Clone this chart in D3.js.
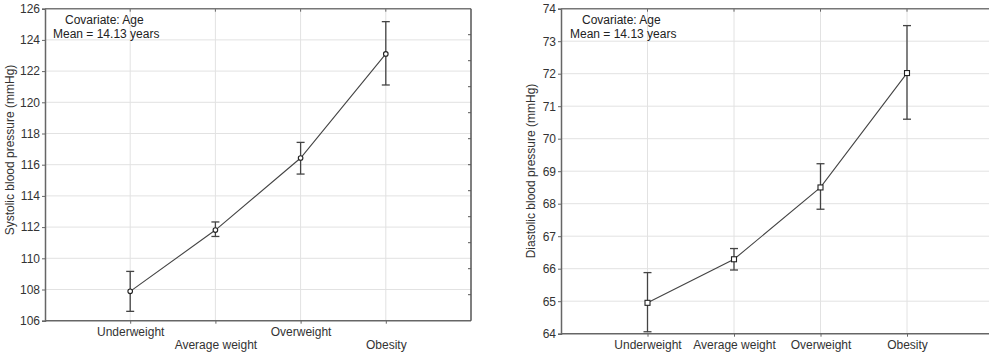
<!DOCTYPE html>
<html>
<head>
<meta charset="utf-8">
<script src="https://cdn.jsdelivr.net/npm/d3@7/dist/d3.min.js"></script>
<style>
  html, body { margin: 0; padding: 0; background: #fff; }
  svg { display: block; font-family: "Liberation Sans", Arial, sans-serif; }
</style>
</head>
<body>
<svg id="chart" width="989" height="354"></svg>
<script>
const categories = ["Underweight", "Average weight", "Overweight", "Obesity"];
const systolicMean  = [107.88, 111.81, 116.43, 123.10];
const systolicLower = [106.60, 111.40, 115.40, 121.11];
const systolicUpper = [109.16, 112.33, 117.43, 125.17];
const diastolicMean  = [64.95, 66.29, 68.50, 72.02];
const diastolicLower = [64.06, 65.96, 67.83, 70.60];
const diastolicUpper = [65.88, 66.62, 69.23, 73.48];
const systolicTicks = [106, 108, 110, 112, 114, 116, 118, 120, 122, 124, 126];
const diastolicTicks = [64, 65, 66, 67, 68, 69, 70, 71, 72, 73, 74];
const noteLines = ["Covariate: Age", "Mean = 14.13 years"];

const svg = d3.select("#chart");

function panel(opt) {
  const g = svg.append("g");
  const x = d3.scalePoint().domain(["_a", ...categories, "_b"]).range([opt.left, opt.right]);
  const y = d3.scaleLinear().domain(opt.domain).range([opt.bottom, opt.top]);

  // gridlines
  g.selectAll(".hg").data(opt.ticks.slice(1, -1)).join("line")
    .attr("x1", opt.left).attr("x2", opt.right)
    .attr("y1", d => y(d)).attr("y2", d => y(d))
    .attr("stroke", "#e2e2e2").attr("stroke-width", 1);
  g.selectAll(".vg").data(categories).join("line")
    .attr("x1", d => x(d)).attr("x2", d => x(d))
    .attr("y1", opt.top).attr("y2", opt.bottom)
    .attr("stroke", "#e2e2e2").attr("stroke-width", 1);

  // y axis
  const yAxis = d3.axisLeft(y).tickValues(opt.ticks).tickSize(3).tickFormat(d3.format("d"));
  const ya = g.append("g").attr("transform", `translate(${opt.left},0)`).call(yAxis);
  ya.select(".domain").attr("stroke", "#666").attr("stroke-width", 1.5);
  ya.selectAll(".tick line").attr("stroke", "#666");
  ya.selectAll("text").attr("font-size", 12).attr("fill", "#333")
    .attr("font-family", "Liberation Sans, Arial, sans-serif").attr("x", -5);

  // x axis
  const xAxis = d3.axisBottom(x).tickValues(categories).tickSize(3).tickFormat(d => d);
  const xa = g.append("g").attr("transform", `translate(0,${opt.bottom})`).call(xAxis);
  xa.select(".domain").remove();
  xa.selectAll(".tick line").attr("stroke", "#666");
  xa.selectAll("text").attr("font-size", 12).attr("fill", "#333")
    .attr("font-family", "Liberation Sans, Arial, sans-serif")
    .attr("y", (d, i) => opt.stagger ? (i % 2 === 0 ? 7 : 20) : 7).attr("dy", "0.71em");

  // top ticks
  g.selectAll(".tt").data(categories).join("line")
    .attr("x1", d => x(d)).attr("x2", d => x(d))
    .attr("y1", opt.top).attr("y2", opt.top + 3)
    .attr("stroke", "#666");

  // frame
  g.append("line").attr("x1", opt.left).attr("x2", opt.right)
    .attr("y1", opt.bottom).attr("y2", opt.bottom).attr("stroke", "#666").attr("stroke-width", 1.5);
  g.append("line").attr("x1", opt.left).attr("x2", opt.right)
    .attr("y1", opt.top).attr("y2", opt.top).attr("stroke", "#777").attr("stroke-width", 1.5);
  if (opt.rightAxis) {
    g.append("line").attr("x1", opt.right).attr("x2", opt.right)
      .attr("y1", opt.top).attr("y2", opt.bottom).attr("stroke", "#555").attr("stroke-width", 1.5);
    const yr = d3.scaleLinear().domain([0, 12]).range([opt.bottom, opt.top]);
    g.selectAll(".rt").data(d3.range(1, 12)).join("line")
      .attr("x1", opt.right - 3).attr("x2", opt.right)
      .attr("y1", d => yr(d)).attr("y2", d => yr(d))
      .attr("stroke", "#555");
  }

  // line
  const pts = categories.map((c, i) => ({c, m: opt.mean[i], lo: opt.lower[i], hi: opt.upper[i]}));
  g.append("path").datum(pts)
    .attr("d", d3.line().x(d => x(d.c)).y(d => y(d.m)))
    .attr("fill", "none").attr("stroke", "#444").attr("stroke-width", 1.1);

  // error bars
  const eb = g.selectAll(".eb").data(pts).join("g");
  eb.append("line").attr("x1", d => x(d.c)).attr("x2", d => x(d.c))
    .attr("y1", d => y(d.lo)).attr("y2", d => y(d.hi))
    .attr("stroke", "#444").attr("stroke-width", 1.3);
  eb.append("line").attr("x1", d => x(d.c) - 4).attr("x2", d => x(d.c) + 4)
    .attr("y1", d => y(d.lo)).attr("y2", d => y(d.lo))
    .attr("stroke", "#444").attr("stroke-width", 1.3);
  eb.append("line").attr("x1", d => x(d.c) - 4).attr("x2", d => x(d.c) + 4)
    .attr("y1", d => y(d.hi)).attr("y2", d => y(d.hi))
    .attr("stroke", "#444").attr("stroke-width", 1.3);

  // markers
  if (opt.marker === "circle") {
    g.selectAll(".mk").data(pts).join("circle")
      .attr("cx", d => x(d.c)).attr("cy", d => y(d.m)).attr("r", 2.3)
      .attr("fill", "#fff").attr("stroke", "#222").attr("stroke-width", 1.1);
  } else {
    g.selectAll(".mk").data(pts).join("rect")
      .attr("x", d => x(d.c) - 2.5).attr("y", d => y(d.m) - 2.5)
      .attr("width", 5).attr("height", 5)
      .attr("fill", "#fff").attr("stroke", "#222").attr("stroke-width", 1.1);
  }

  // note
  g.append("text").attr("x", opt.noteX1).attr("y", opt.top + 15)
    .attr("font-size", 12).attr("fill", "#222").text(noteLines[0]);
  g.append("text").attr("x", opt.noteX2).attr("y", opt.top + 29)
    .attr("font-size", 12).attr("fill", "#222").text(noteLines[1]);

  // y title
  g.append("text")
    .attr("transform", `translate(${opt.titleX},${opt.titleY}) rotate(-90)`)
    .attr("text-anchor", "middle").attr("font-size", 12).attr("fill", "#333")
    .text(opt.title);
}

panel({
  id: 1, left: 45, right: 471, top: 8.7, bottom: 320.7,
  domain: [106, 126], ticks: systolicTicks,
  mean: systolicMean, lower: systolicLower, upper: systolicUpper,
  marker: "circle", stagger: true, rightAxis: true,
  noteX1: 65, noteX2: 53, titleX: 14, titleY: 150,
  title: "Systolic blood pressure (mmHg)"
});

panel({
  id: 2, left: 561, right: 993.5, top: 8.7, bottom: 333.7,
  domain: [64, 74], ticks: diastolicTicks,
  mean: diastolicMean, lower: diastolicLower, upper: diastolicUpper,
  marker: "square", stagger: false, rightAxis: false,
  noteX1: 582, noteX2: 570, titleX: 535, titleY: 171,
  title: "Diastolic blood pressure (mmHg)"
});
</script>
</body>
</html>
